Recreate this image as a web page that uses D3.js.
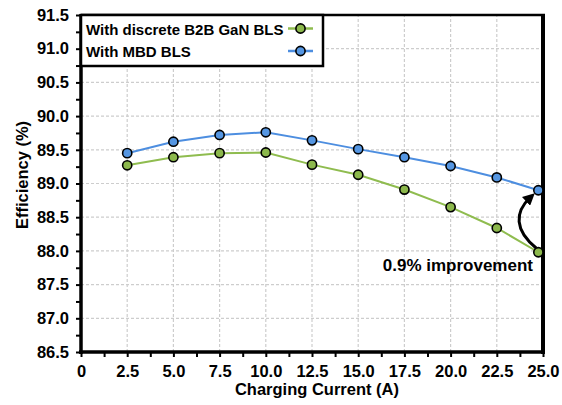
<!DOCTYPE html>
<html><head><meta charset="utf-8">
<script src="https://cdn.jsdelivr.net/npm/d3@7"></script>
<style>
html,body{margin:0;padding:0;background:#fff;}
svg{display:block;}
text{font-family:"Liberation Sans",Arial,sans-serif;font-weight:bold;fill:#000;}
</style></head>
<body><svg id="c" width="562" height="405"></svg>
<script>
const current = [2.5, 5, 7.5, 10, 12.5, 15, 17.5, 20, 22.5, 24.75];
const mbdBLS = [89.45, 89.62, 89.72, 89.76, 89.64, 89.51, 89.39, 89.26, 89.09, 88.90];
const discreteBLS = [89.27, 89.39, 89.45, 89.46, 89.28, 89.13, 88.91, 88.65, 88.34, 87.98];
const xTicks = [0, 2.5, 5, 7.5, 10, 12.5, 15, 17.5, 20, 22.5, 25];
const yTicks = [86.5, 87, 87.5, 88, 88.5, 89, 89.5, 90, 90.5, 91, 91.5];
const seriesNames = ["With discrete B2B GaN BLS", "With MBD BLS"];
const annotation = "0.9% improvement";

const svg = d3.select("#c");
const x = d3.scaleLinear().domain([0, 25]).range([81, 543]);
const y = d3.scaleLinear().domain([86.5, 91.5]).range([352, 15]);

const green = "#8fbc4f", greenFill = "#8cb84c";
const blue = "#4d8ee0", blueFill = "#5596e2";

// grid
const g = svg.append("g");
g.selectAll(".vg").data(xTicks.slice(1, -1)).join("line")
  .attr("x1", d => x(d)).attr("x2", d => x(d)).attr("y1", y(86.5)).attr("y2", y(91.5))
  .attr("stroke", "#cdcdcd").attr("stroke-width", 1.2).attr("stroke-dasharray", "3,2");
g.selectAll(".hg").data(yTicks.slice(1, -1)).join("line")
  .attr("y1", d => y(d)).attr("y2", d => y(d)).attr("x1", x(0)).attr("x2", x(25))
  .attr("stroke", "#cdcdcd").attr("stroke-width", 1.2).attr("stroke-dasharray", "3,2");

// axes
const minorX = d3.range(0, 25.01, 1.25);
const minorY = d3.range(86.5, 91.51, 0.25);
const xAx = svg.append("g").attr("transform", `translate(0,${y(86.5)})`)
  .call(d3.axisBottom(x).tickValues(minorX).tickSize(5).tickFormat(""));
xAx.select(".domain").remove();
xAx.selectAll(".tick line").attr("stroke", "#000").attr("stroke-width", 2);
const xLab = svg.append("g").attr("transform", `translate(0,${y(86.5)})`)
  .call(d3.axisBottom(x).tickValues(xTicks).tickSize(0).tickPadding(0)
    .tickFormat(d => d === 0 ? "0" : d3.format(".1f")(d)));
xLab.select(".domain").remove();
xLab.selectAll("text").attr("font-size", 16.5).attr("dy", null).attr("y", 25)
  .style("font-family", '"Liberation Sans",Arial,sans-serif').style("font-weight", "bold");

const yAx = svg.append("g").attr("transform", `translate(${x(0)},0)`)
  .call(d3.axisLeft(y).tickValues(minorY).tickSize(5).tickFormat(""));
yAx.select(".domain").remove();
yAx.selectAll(".tick line").attr("stroke", "#000").attr("stroke-width", 2);
const yLab = svg.append("g").attr("transform", `translate(${x(0)},0)`)
  .call(d3.axisLeft(y).tickValues(yTicks).tickSize(0).tickPadding(12).tickFormat(d3.format(".1f")));
yLab.select(".domain").remove();
yLab.selectAll("text").attr("font-size", 16.5)
  .style("font-family", '"Liberation Sans",Arial,sans-serif').style("font-weight", "bold");

// frame
svg.append("line").attr("x1", x(0)).attr("x2", x(0)).attr("y1", y(91.5) - 1).attr("y2", y(86.5) + 2)
  .attr("stroke", "#000").attr("stroke-width", 3.5);
svg.append("line").attr("x1", x(0) - 2).attr("x2", x(25) + 2).attr("y1", y(86.5)).attr("y2", y(86.5))
  .attr("stroke", "#000").attr("stroke-width", 3.5);
svg.append("line").attr("x1", x(0)).attr("x2", x(25) + 2).attr("y1", y(91.5)).attr("y2", y(91.5))
  .attr("stroke", "#000").attr("stroke-width", 2.5);
svg.append("line").attr("x1", x(25)).attr("x2", x(25)).attr("y1", y(91.5) - 1).attr("y2", y(86.5) + 2)
  .attr("stroke", "#000").attr("stroke-width", 4);

// series
const line = d3.line().x(d => x(d[0])).y(d => y(d[1]));
const series = [
  { vals: discreteBLS, stroke: green, fill: greenFill },
  { vals: mbdBLS, stroke: blue, fill: blueFill }
];
series.forEach(s => {
  const pts = current.map((c, i) => [c, s.vals[i]]);
  svg.append("path").datum(pts).attr("d", line).attr("fill", "none")
    .attr("stroke", s.stroke).attr("stroke-width", 2);
});
series.forEach(s => {
  const pts = current.map((c, i) => [c, s.vals[i]]);
  svg.append("g").selectAll("circle").data(pts).join("circle")
    .attr("cx", d => x(d[0])).attr("cy", d => y(d[1])).attr("r", 4.6)
    .attr("fill", s.fill).attr("stroke", "#000").attr("stroke-width", 1.6);
});

// arrow
const defs = svg.append("defs");
defs.append("marker").attr("id", "ah").attr("viewBox", "0 0 10 10").attr("refX", 5).attr("refY", 5)
  .attr("markerWidth", 4).attr("markerHeight", 4).attr("orient", "auto")
  .append("path").attr("d", "M0,0 L10,5 L0,10 Z").attr("fill", "#000");
const gx = x(current[9]), gy = y(discreteBLS[9]), by = y(mbdBLS[9]);
svg.append("path")
  .attr("d", `M${gx - 2},${gy - 4} C${gx - 24},${gy - 22} ${gx - 24},${by + 22} ${gx - 8},${by + 7}`)
  .attr("fill", "none").attr("stroke", "#000").attr("stroke-width", 3).attr("marker-end", "url(#ah)");

svg.append("text").attr("x", 533).attr("y", 271).attr("text-anchor", "end")
  .attr("font-size", 17).text(annotation);

// legend
const lg = svg.append("g");
lg.append("rect").attr("x", x(0)).attr("y", y(91.5)).attr("width", 242).attr("height", 51)
  .attr("fill", "#fff").attr("stroke", "#000").attr("stroke-width", 2.5);
series.forEach((s, i) => {
  const cy = 28.5 + i * 22.5;
  lg.append("text").attr("x", 86).attr("y", cy + 6).attr("font-size", 15).text(seriesNames[i]);
  lg.append("line").attr("x1", 288).attr("x2", 313).attr("y1", cy).attr("y2", cy)
    .attr("stroke", s.stroke).attr("stroke-width", 2.5);
  lg.append("circle").attr("cx", 300.5).attr("cy", cy).attr("r", 4.6)
    .attr("fill", s.fill).attr("stroke", "#000").attr("stroke-width", 1.6);
});

// axis titles
svg.append("text").attr("x", 317).attr("y", 395).attr("text-anchor", "middle")
  .attr("font-size", 16.5).text("Charging Current (A)");
svg.append("text").attr("transform", "translate(28,175) rotate(-90)").attr("text-anchor", "middle")
  .attr("font-size", 16.5).text("Efficiency (%)");
</script></body></html>
